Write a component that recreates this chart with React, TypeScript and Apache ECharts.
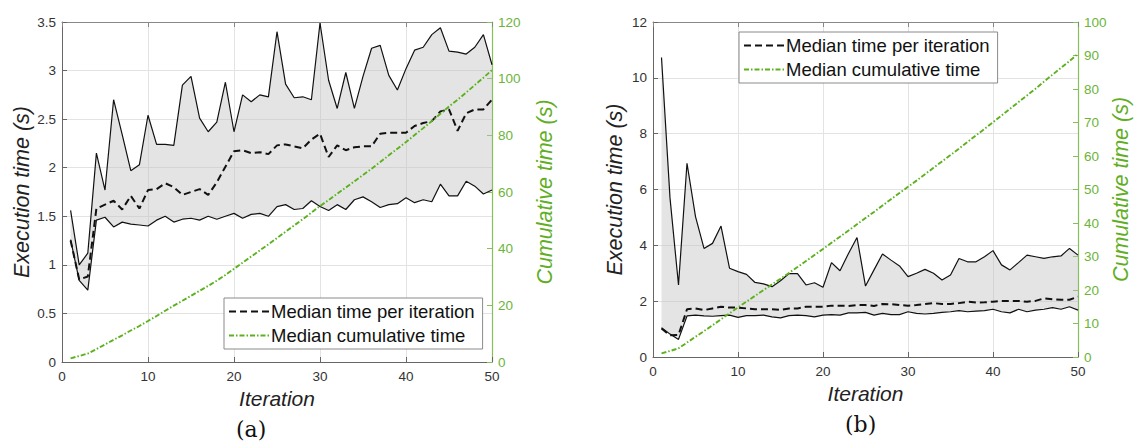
import React, { useEffect, useRef } from "react";
import * as echarts from "echarts";

const iterations = Array.from({ length: 50 }, (_, i) => i + 1);

// Panel (a)
const aUpper = [1.56, 1.0, 1.12, 2.15, 1.77, 2.7, 2.34, 1.97, 2.03, 2.54, 2.24, 2.24, 2.23, 2.85, 2.94, 2.51, 2.37, 2.47, 2.88, 2.37, 2.75, 2.68, 2.75, 2.73, 3.4, 2.86, 2.72, 2.73, 2.7, 3.49, 2.9, 2.61, 2.98, 2.61, 2.94, 3.23, 3.26, 2.95, 2.8, 3.02, 3.21, 3.24, 3.37, 3.44, 3.2, 3.19, 3.17, 3.24, 3.37, 3.06];
const aLower = [1.26, 0.84, 0.74, 1.46, 1.49, 1.39, 1.44, 1.42, 1.41, 1.4, 1.46, 1.5, 1.44, 1.47, 1.48, 1.46, 1.5, 1.47, 1.5, 1.53, 1.48, 1.52, 1.53, 1.5, 1.6, 1.62, 1.57, 1.58, 1.66, 1.6, 1.56, 1.62, 1.57, 1.67, 1.7, 1.65, 1.59, 1.62, 1.63, 1.69, 1.64, 1.67, 1.65, 1.83, 1.71, 1.71, 1.86, 1.81, 1.73, 1.77];
const aMedian = [1.25, 0.85, 0.88, 1.58, 1.62, 1.66, 1.57, 1.71, 1.58, 1.77, 1.78, 1.84, 1.8, 1.72, 1.75, 1.78, 1.72, 1.85, 2.01, 2.17, 2.18, 2.15, 2.16, 2.14, 2.23, 2.24, 2.22, 2.2, 2.29, 2.35, 2.11, 2.23, 2.18, 2.21, 2.22, 2.22, 2.35, 2.36, 2.36, 2.36, 2.43, 2.46, 2.48, 2.58, 2.6, 2.38, 2.56, 2.6, 2.6, 2.7];
const aCumulative = [1.3, 2.1, 2.98, 4.56, 6.18, 7.84, 9.41, 11.12, 12.7, 14.47, 16.25, 18.09, 19.89, 21.61, 23.36, 25.14, 26.86, 28.71, 30.72, 32.89, 35.07, 37.22, 39.38, 41.52, 43.75, 45.99, 48.21, 50.41, 52.7, 55.05, 57.16, 59.39, 61.57, 63.78, 66.0, 68.22, 70.57, 72.93, 75.29, 77.65, 80.08, 82.54, 85.02, 87.6, 90.2, 92.58, 95.14, 97.74, 100.34, 103.04];

// Panel (b)
const bUpper = [10.73, 5.7, 2.58, 6.94, 5.03, 3.89, 4.07, 4.69, 3.18, 3.06, 2.96, 2.67, 2.62, 2.52, 2.73, 2.99, 2.99, 2.58, 2.66, 2.5, 3.38, 3.09, 3.71, 4.28, 2.54, 3.12, 3.69, 3.47, 3.26, 2.88, 3.0, 3.14, 3.0, 2.76, 2.94, 3.53, 3.41, 3.41, 3.59, 3.81, 3.3, 3.12, 3.38, 3.65, 3.59, 3.53, 3.59, 3.62, 3.89, 3.65];
const bLower = [1.05, 0.82, 0.63, 1.47, 1.5, 1.47, 1.46, 1.48, 1.5, 1.42, 1.48, 1.48, 1.5, 1.44, 1.4, 1.48, 1.5, 1.48, 1.44, 1.5, 1.52, 1.5, 1.58, 1.58, 1.6, 1.5, 1.56, 1.52, 1.52, 1.62, 1.56, 1.54, 1.56, 1.6, 1.62, 1.66, 1.62, 1.64, 1.66, 1.71, 1.62, 1.58, 1.71, 1.62, 1.68, 1.71, 1.77, 1.71, 1.8, 1.68];
const bMedian = [1.02, 0.78, 0.79, 1.71, 1.74, 1.68, 1.74, 1.8, 1.77, 1.77, 1.74, 1.71, 1.71, 1.71, 1.69, 1.74, 1.74, 1.8, 1.8, 1.8, 1.84, 1.84, 1.83, 1.86, 1.86, 1.83, 1.9, 1.89, 1.86, 1.84, 1.86, 1.9, 1.93, 1.9, 1.9, 1.93, 1.98, 1.95, 1.96, 1.98, 2.01, 2.01, 2.01, 1.98, 2.01, 2.1, 2.07, 2.05, 2.05, 2.16];
const bCumulative = [1.1, 1.8, 2.59, 4.3, 6.04, 7.72, 9.46, 11.26, 13.03, 14.8, 16.54, 18.25, 19.96, 21.67, 23.36, 25.1, 26.84, 28.64, 30.44, 32.24, 34.08, 35.92, 37.75, 39.61, 41.47, 43.3, 45.2, 47.09, 48.95, 50.79, 52.65, 54.55, 56.48, 58.38, 60.28, 62.21, 64.19, 66.14, 68.1, 70.08, 72.09, 74.1, 76.11, 78.09, 80.1, 82.2, 84.27, 86.32, 88.37, 90.53];

const xTicks = { min: 0, max: 50, interval: 10 };
const panelLabels = ["(a)", "(b)"];
const seriesNames = ["Median time per iteration", "Median cumulative time"];

const SANS = "Liberation Sans, Arial, Helvetica, sans-serif";
const GREEN_AXIS = "#86c05a";
const GREEN_TEXT = "#5fae23";
const GREEN_LINE = "#5cb21e";

function pairs(vals: number[]) {
  return vals.map((v, i) => [iterations[i], v]);
}

function buildPanel(
  idx: number,
  upper: number[],
  lower: number[],
  median: number[],
  cumulative: number[]
) {
  const xb = idx * 2;
  const yl = idx * 2;
  const yr = idx * 2 + 1;
  return [
    {
      type: "custom",
      name: "band" + idx,
      coordinateSystem: "cartesian2d",
      xAxisIndex: xb,
      yAxisIndex: yl,
      data: [[iterations[0], lower[0]]],
      silent: true,
      z: 1,
      renderItem: (_params: any, api: any) => {
        const pts: number[][] = [];
        for (let i = 0; i < iterations.length; i++) pts.push(api.coord([iterations[i], upper[i]]));
        for (let i = iterations.length - 1; i >= 0; i--) pts.push(api.coord([iterations[i], lower[i]]));
        return {
          type: "polygon",
          shape: { points: pts },
          style: { fill: "rgba(190,190,190,0.42)", stroke: "none" },
        };
      },
    },
    {
      type: "line",
      name: "upper" + idx,
      xAxisIndex: xb,
      yAxisIndex: yl,
      data: pairs(upper),
      symbol: "none",
      lineStyle: { color: "#111", width: 1.2 },
      z: 3,
    },
    {
      type: "line",
      name: "lower" + idx,
      xAxisIndex: xb,
      yAxisIndex: yl,
      data: pairs(lower),
      symbol: "none",
      lineStyle: { color: "#111", width: 1.2 },
      z: 3,
    },
    {
      type: "line",
      name: seriesNames[0],
      xAxisIndex: xb,
      yAxisIndex: yl,
      data: pairs(median),
      symbol: "none",
      itemStyle: { color: "#111" },
      lineStyle: { color: "#111", width: 2, type: [7, 4] },
      z: 4,
    },
    {
      type: "line",
      name: seriesNames[1],
      xAxisIndex: xb,
      yAxisIndex: yr,
      data: pairs(cumulative),
      symbol: "none",
      itemStyle: { color: GREEN_LINE },
      lineStyle: { color: GREEN_LINE, width: 1.9, type: [5, 2, 1.5, 2] },
      z: 4,
    },
  ];
}

function xAxes(gridIndex: number, nameGap: number) {
  return [
    {
      type: "value",
      gridIndex,
      position: "bottom",
      ...xTicks,
      name: "Iteration",
      nameLocation: "middle",
      nameGap,
      nameTextStyle: { fontFamily: SANS, fontStyle: "italic", fontSize: 21, color: "#222" },
      axisLine: { show: true, onZero: false, lineStyle: { color: "#666", width: 1 } },
      axisTick: { show: true, inside: true, length: 5, lineStyle: { color: "#666" } },
      axisLabel: { fontFamily: SANS, fontSize: 13.5, color: "#333", margin: 7 },
      splitLine: { show: true, lineStyle: { color: "#e3e3e3", width: 1 } },
    },
    {
      type: "value",
      gridIndex,
      position: "top",
      ...xTicks,
      axisLine: { show: true, onZero: false, lineStyle: { color: "#888", width: 1 } },
      axisTick: { show: true, inside: true, length: 5, lineStyle: { color: "#888" } },
      axisLabel: { show: false },
      splitLine: { show: false },
    },
  ];
}

function yAxes(
  gridIndex: number,
  leftMax: number,
  leftInt: number,
  rightMax: number,
  rightInt: number,
  leftGap: number,
  rightGap: number
) {
  return [
    {
      type: "value",
      gridIndex,
      position: "left",
      min: 0,
      max: leftMax,
      interval: leftInt,
      name: "Execution time (s)",
      nameLocation: "middle",
      nameGap: leftGap,
      nameRotate: 90,
      nameTextStyle: { fontFamily: SANS, fontStyle: "italic", fontSize: 21.5, color: "#222" },
      axisLine: { show: true, onZero: false, lineStyle: { color: "#666", width: 1 } },
      axisTick: { show: true, inside: true, length: 5, lineStyle: { color: "#666" } },
      axisLabel: { fontFamily: SANS, fontSize: 13.5, color: "#333", margin: 6 },
      splitLine: { show: true, lineStyle: { color: "#e3e3e3", width: 1 } },
    },
    {
      type: "value",
      gridIndex,
      position: "right",
      min: 0,
      max: rightMax,
      interval: rightInt,
      name: "Cumulative time (s)",
      nameLocation: "middle",
      nameGap: rightGap,
      nameRotate: 90,
      nameTextStyle: { fontFamily: SANS, fontStyle: "italic", fontSize: 21.5, color: GREEN_TEXT },
      axisLine: { show: true, onZero: false, lineStyle: { color: GREEN_AXIS, width: 1.2 } },
      axisTick: { show: true, inside: true, length: 5, lineStyle: { color: GREEN_AXIS } },
      axisLabel: { fontFamily: SANS, fontSize: 13.5, color: "#6cb43a", margin: 6 },
      splitLine: { show: false },
    },
  ];
}

function legendAt(left: number, top: number) {
  return {
    left,
    top,
    orient: "vertical",
    data: seriesNames,
    backgroundColor: "#fff",
    borderColor: "#8a8a8a",
    borderWidth: 1,
    borderRadius: 0,
    padding: [4, 8, 4, 4],
    itemGap: 5,
    itemWidth: 40,
    itemHeight: 18,
    selectedMode: false,
    itemStyle: { opacity: 0 },
    textStyle: { fontFamily: SANS, fontSize: 18.5, color: "#111", padding: [0, 0, 0, -3] },
  };
}

export default function App() {
  const ref = useRef<HTMLDivElement>(null);
  useEffect(() => {
    if (!ref.current) return;
    const chart = echarts.init(ref.current, null, { renderer: "svg" });
    chart.setOption({
      animation: false,
      backgroundColor: "#fff",
      grid: [
        { left: 62, top: 22, width: 430, height: 340 },
        { left: 653, top: 22, width: 425, height: 335 },
      ],
      xAxis: [...xAxes(0, 25), ...xAxes(1, 25)],
      yAxis: [
        ...yAxes(0, 3.5, 0.5, 120, 20, 25, 42),
        ...yAxes(1, 12, 2, 100, 10, 27, 29),
      ],
      legend: [legendAt(224, 298), legendAt(739, 32)],
      series: [
        ...buildPanel(0, aUpper, aLower, aMedian, aCumulative),
        ...buildPanel(1, bUpper, bLower, bMedian, bCumulative),
      ],
      graphic: [
        {
          type: "text",
          left: 236,
          top: 418,
          style: { text: panelLabels[0], font: "22px 'DejaVu Serif', 'Liberation Serif', serif", fill: "#111" },
        },
        {
          type: "text",
          left: 845,
          top: 413,
          style: { text: panelLabels[1], font: "22px 'DejaVu Serif', 'Liberation Serif', serif", fill: "#111" },
        },
      ],
    });
    return () => chart.dispose();
  }, []);
  return (
    <div
      ref={ref}
      style={{ position: "absolute", left: 0, top: 0, width: 1136, height: 443 }}
    />
  );
}
